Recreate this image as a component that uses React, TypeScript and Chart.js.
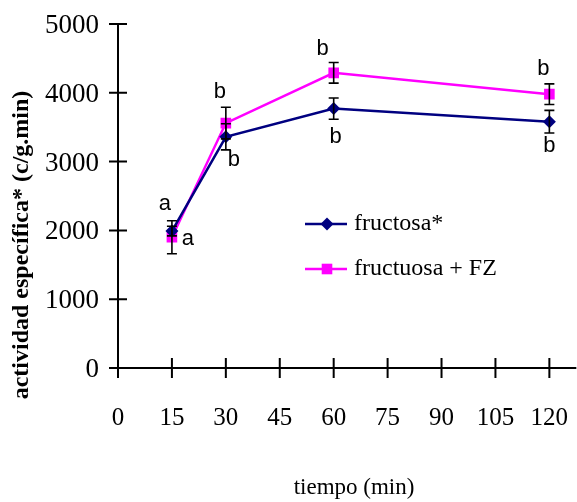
import React, { useEffect, useRef } from 'react';
import { Chart, registerables } from 'chart.js';

Chart.register(...registerables);

// ---- data ----
const tiempo = [15, 30, 60, 120];
const fructosa = [1990, 3360, 3770, 3580];
const fructosaErr = [70, 190, 155, 165];
const fructosaLetters = ['a', 'b', 'b', 'b'];
const fz = [1900, 3560, 4290, 3980];
const fzErr = [240, 230, 150, 150];
const fzLetters = ['a', 'b', 'b', 'b'];
const seriesLabels = ['fructosa*', 'fructuosa + FZ'];
const xTicks = [0, 15, 30, 45, 60, 75, 90, 105, 120];
const yTicks = [0, 1000, 2000, 3000, 4000, 5000];
const xAxisEnd = 127.5;
const xTitle = 'tiempo (min)';
const yTitle = 'actividad específica* (c/g.min)';

// ---- style (pixel offsets of significance letters relative to points) ----
const fructosaLetterOffsets = [[16, 8], [8, 23], [2, 28], [0, 24]];
const fzLetterOffsets = [[-7, -33], [-6, -31], [-11, -24], [-6, -25]];

const SERIF = '"Liberation Serif", "Times New Roman", serif';
const SANS = '"Liberation Sans", Arial, sans-serif';

const axesPlugin = {
  id: 'crossAxes',
  beforeDatasetsDraw(chart: any) {
    const { ctx, chartArea, scales } = chart;
    const x = scales.x;
    const y = scales.y;
    ctx.save();
    ctx.strokeStyle = '#000';
    ctx.lineWidth = 2;
    ctx.beginPath();
    ctx.moveTo(chartArea.left, y.getPixelForValue(yTicks[yTicks.length - 1]));
    ctx.lineTo(chartArea.left, chartArea.bottom);
    ctx.moveTo(chartArea.left - 9, chartArea.bottom);
    ctx.lineTo(x.getPixelForValue(xAxisEnd), chartArea.bottom);
    yTicks.forEach((v) => {
      const py = y.getPixelForValue(v);
      ctx.moveTo(chartArea.left - 9, py);
      ctx.lineTo(chartArea.left + 9, py);
    });
    xTicks.forEach((v) => {
      const px = x.getPixelForValue(v);
      ctx.moveTo(px, chartArea.bottom - 10);
      ctx.lineTo(px, chartArea.bottom + 10);
    });
    ctx.stroke();

    ctx.fillStyle = '#000';
    ctx.textAlign = 'center';
    ctx.textBaseline = 'middle';
    ctx.font = `23px ${SERIF}`;
    ctx.fillText(xTitle, 354, 488);
    ctx.translate(22, 245);
    ctx.rotate(-Math.PI / 2);
    ctx.font = `bold 24px ${SERIF}`;
    ctx.fillText(yTitle, 0, 0);
    ctx.restore();
  },
};

const errorPlugin = {
  id: 'errorsAndLetters',
  afterDatasetsDraw(chart: any) {
    const { ctx, scales } = chart;
    const x = scales.x;
    const y = scales.y;
    ctx.save();
    ctx.strokeStyle = '#000';
    ctx.lineWidth = 1.6;
    chart.data.datasets.forEach((ds: any) => {
      ds.data.forEach((pt: any, i: number) => {
        const e = ds.errors[i];
        const px = x.getPixelForValue(pt.x);
        const top = y.getPixelForValue(pt.y + e);
        const bot = y.getPixelForValue(pt.y - e);
        ctx.beginPath();
        ctx.moveTo(px, top);
        ctx.lineTo(px, bot);
        ctx.moveTo(px - 5, top);
        ctx.lineTo(px + 5, top);
        ctx.moveTo(px - 5, bot);
        ctx.lineTo(px + 5, bot);
        ctx.stroke();
      });
    });
    ctx.fillStyle = '#000';
    ctx.font = `22px ${SANS}`;
    ctx.textAlign = 'center';
    ctx.textBaseline = 'middle';
    chart.data.datasets.forEach((ds: any) => {
      ds.data.forEach((pt: any, i: number) => {
        const px = x.getPixelForValue(pt.x);
        const py = y.getPixelForValue(pt.y);
        const [dx, dy] = ds.letterOffsets[i];
        ctx.fillText(ds.letters[i], px + dx, py + dy);
      });
    });
    ctx.restore();
  },
};

const legendPlugin = {
  id: 'innerLegend',
  afterDraw(chart: any) {
    const { ctx } = chart;
    const lx = 305;
    const rows = [224, 269];
    ctx.save();
    chart.data.datasets.forEach((ds: any, i: number) => {
      const ly = rows[i];
      ctx.strokeStyle = ds.borderColor;
      ctx.lineWidth = ds.borderWidth;
      ctx.beginPath();
      ctx.moveTo(lx, ly);
      ctx.lineTo(lx + 42, ly);
      ctx.stroke();
      ctx.fillStyle = ds.backgroundColor;
      const cx = lx + 22;
      ctx.beginPath();
      if (ds.pointStyle === 'rectRot') {
        const r = ds.pointRadius;
        ctx.moveTo(cx - r, ly);
        ctx.lineTo(cx, ly - r);
        ctx.lineTo(cx + r, ly);
        ctx.lineTo(cx, ly + r);
        ctx.closePath();
      } else {
        const s = ds.pointRadius * Math.SQRT1_2;
        ctx.rect(cx - s, ly - s, 2 * s, 2 * s);
      }
      ctx.fill();
      ctx.fillStyle = '#000';
      ctx.font = `24px ${SERIF}`;
      ctx.textAlign = 'left';
      ctx.textBaseline = 'middle';
      ctx.fillText(ds.label, lx + 49, ly);
    });
    ctx.restore();
  },
};

export default function App() {
  const ref = useRef<HTMLCanvasElement>(null);
  useEffect(() => {
    if (!ref.current) return;
    const chart = new Chart(ref.current, {
      type: 'line',
      data: {
        datasets: [
          {
            label: seriesLabels[0],
            data: tiempo.map((t, i) => ({ x: t, y: fructosa[i] })),
            borderColor: '#000080',
            backgroundColor: '#000080',
            borderWidth: 2.5,
            pointStyle: 'rectRot',
            pointRadius: 6.5,
            pointBorderWidth: 0,
            errors: fructosaErr,
            letters: fructosaLetters,
            letterOffsets: fructosaLetterOffsets,
          } as any,
          {
            label: seriesLabels[1],
            data: tiempo.map((t, i) => ({ x: t, y: fz[i] })),
            borderColor: '#ff00ff',
            backgroundColor: '#ff00ff',
            borderWidth: 2.5,
            pointStyle: 'rect',
            pointRadius: 7.5,
            pointBorderWidth: 0,
            errors: fzErr,
            letters: fzLetters,
            letterOffsets: fzLetterOffsets,
          } as any,
        ],
      },
      options: {
        animation: false,
        responsive: false,
        devicePixelRatio: 1,
        layout: { padding: { left: 0, top: 24, right: 2, bottom: 0 } },
        plugins: { legend: { display: false }, tooltip: { enabled: false } },
        scales: {
          x: {
            type: 'linear',
            min: 0,
            max: 125.6,
            grid: { display: false, drawTicks: false },
            border: { display: false },
            afterBuildTicks: (s: any) => {
              s.ticks = xTicks.map((v) => ({ value: v }));
            },
            afterFit: (s: any) => {
              s.height = 134;
              s.paddingLeft = 0;
              s.paddingRight = 0;
              s.paddingTop = 0;
              s.paddingBottom = 0;
            },
            ticks: {
              color: '#000',
              padding: 35,
              maxRotation: 0,
              autoSkip: false,
              callback: (v: any) => String(v),
              font: { family: 'Liberation Serif', size: 25 },
            },
          },
          y: {
            type: 'linear',
            min: 0,
            max: 5000,
            grid: { display: false, drawTicks: false },
            border: { display: false },
            afterBuildTicks: (s: any) => {
              s.ticks = yTicks.map((v) => ({ value: v }));
            },
            afterFit: (s: any) => {
              s.width = 118;
              s.paddingLeft = 0;
              s.paddingRight = 0;
              s.paddingTop = 0;
              s.paddingBottom = 0;
            },
            ticks: {
              color: '#000',
              padding: 19,
              labelOffset: 2,
              autoSkip: false,
              callback: (v: any) => String(v),
              font: { family: 'Liberation Serif', size: 27 },
            },
          },
        },
      },
      plugins: [axesPlugin, errorPlugin, legendPlugin],
    });
    return () => chart.destroy();
  }, []);
  return (
    <div style={{ position: 'absolute', left: 0, top: 0, width: 577, height: 502, background: '#fff' }}>
      <canvas ref={ref} width={577} height={502} style={{ display: 'block' }} />
    </div>
  );
}
